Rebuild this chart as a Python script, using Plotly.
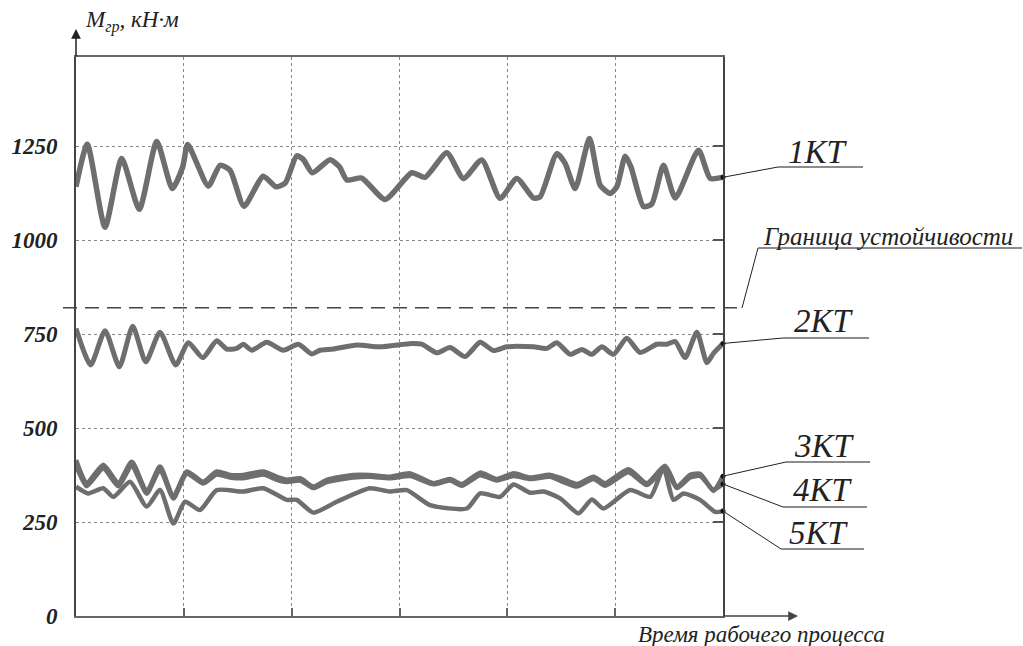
import plotly.graph_objects as go

# ---------------- data ----------------
t1 = [0, 0.105, 0.269, 0.424, 0.587, 0.749, 0.893, 0.99, 1.036, 1.227, 1.336, 1.428, 1.558, 1.737, 1.853,
      1.939, 2.047, 2.109, 2.192, 2.356, 2.443, 2.511, 2.65, 2.866, 3.114, 3.237, 3.439, 3.593, 3.763,
      3.933, 4.088, 4.242, 4.304, 4.459, 4.536, 4.629, 4.762, 4.861, 4.954, 5.016, 5.093, 5.146, 5.263,
      5.34, 5.448, 5.557, 5.773, 5.881, 6.0]
m1 = [1142, 1255, 1034, 1217, 1082, 1262, 1137, 1195, 1254, 1144, 1199, 1186, 1090, 1170, 1142,
      1151, 1224, 1214, 1179, 1214, 1195, 1160, 1165, 1108, 1179, 1167, 1232, 1164, 1213,
      1111, 1164, 1112, 1115, 1230, 1204, 1137, 1270, 1146, 1124, 1142, 1223, 1195, 1089,
      1096, 1199, 1112, 1239, 1164, 1167]

t2 = [0, 0.136, 0.269, 0.402, 0.526, 0.647, 0.779, 0.925, 1.042, 1.175, 1.305, 1.398, 1.491, 1.552,
      1.63, 1.769, 1.923, 2.062, 2.186, 2.263, 2.387, 2.604, 2.82, 3.114, 3.207, 3.346, 3.469, 3.609,
      3.748, 3.871, 3.995, 4.242, 4.366, 4.459, 4.583, 4.691, 4.784, 4.877, 4.984, 5.108, 5.232,
      5.387, 5.479, 5.557, 5.649, 5.758, 5.851, 5.912, 6.0]
m2 = [765, 668, 759, 663, 771, 676, 755, 668, 727, 687, 732, 710, 712, 723,
      707, 728, 707, 723, 697, 707, 710, 721, 716, 725, 723, 700, 714, 690,
      728, 706, 716, 716, 712, 727, 696, 709, 696, 716, 696, 739, 701,
      723, 723, 730, 687, 755, 674, 699, 725]

t34 = [0, 0.099, 0.253, 0.392, 0.517, 0.656, 0.779, 0.903, 1.027, 1.181, 1.305, 1.429, 1.552, 1.737,
       1.862, 1.955, 2.078, 2.201, 2.326, 2.572, 2.727, 2.913, 3.098, 3.315, 3.469, 3.578, 3.748,
       3.903, 4.057, 4.212, 4.397, 4.52, 4.645, 4.799, 4.907, 5.123, 5.294, 5.464, 5.572, 5.696,
       5.788, 5.912, 6.0]
m3 = [415, 353, 402, 353, 410, 331, 397, 317, 384, 357, 384, 375, 375, 384,
      370, 362, 366, 344, 362, 375, 375, 370, 379, 353, 364, 351, 381,
      364, 379, 368, 375, 364, 351, 370, 353, 390, 353, 399, 344, 375,
      378, 333, 372]
m4 = [400, 345, 392, 345, 398, 325, 388, 312, 378, 352, 376, 368, 366, 376,
      362, 356, 360, 340, 356, 368, 370, 366, 372, 350, 360, 346, 374,
      360, 372, 364, 370, 356, 344, 364, 346, 382, 348, 390, 340, 368,
      372, 336, 351]

t5 = [0, 0.114, 0.253, 0.346, 0.501, 0.656, 0.779, 0.903, 1.011, 1.15, 1.305, 1.552, 1.737, 1.955,
      2.047, 2.201, 2.418, 2.727, 2.913, 3.068, 3.284, 3.624, 3.748, 3.933, 4.057, 4.212, 4.335,
      4.49, 4.66, 4.784, 4.891, 5.139, 5.325, 5.448, 5.541, 5.634, 5.788, 5.927, 6.0]
m5 = [344, 326, 340, 317, 357, 291, 335, 246, 304, 282, 335, 331, 340, 309,
      309, 275, 304, 340, 331, 335, 295, 286, 326, 317, 350, 328, 331,
      313, 273, 310, 286, 335, 317, 393, 309, 326, 309, 277, 279]

series_names = ["1КТ", "2КТ", "3КТ", "4КТ", "5КТ"]
boundary_value = 820
boundary_label = "Граница устойчивости"
y_ticks = [0, 250, 500, 750, 1000, 1250]
y_title = "<i>M</i><sub><i>гр</i></sub><i>, кН·м</i>"
x_title = "Время рабочего процесса"

# ---------------- layout helpers ----------------
W, H = 1023, 646
L, R, T, B = 76, 723, 57, 616
YMAX = 1487
XMAX = 6


def px(xp):
    return (xp - L) / (R - L)


def py(yp):
    return (B - yp) / (B - T)


LINE = "#6e6e6e"
SERIF = "Liberation Serif"

fig = go.Figure()
series = [(t1, m1, 5.5), (t2, m2, 5), (t34, m3, 4.8), (t34, m4, 4.2), (t5, m5, 4.5)]
for (tt, mm, w), name in zip(series, series_names):
    fig.add_trace(go.Scatter(x=tt, y=mm, mode="lines", name=name,
                             line=dict(color=LINE, width=w, shape="spline", smoothing=0.6),
                             showlegend=False, hoverinfo="skip"))

# end-point dots
fig.add_trace(go.Scatter(x=[t1[-1], t2[-1], t34[-1], t34[-1], t5[-1]],
                         y=[m1[-1], m2[-1], m3[-1], m4[-1], m5[-1]],
                         mode="markers", marker=dict(color="#111", size=5),
                         cliponaxis=False, showlegend=False, hoverinfo="skip"))

# right-hand tick axis (no marks)
fig.add_trace(go.Scatter(x=[], y=[], yaxis="y2", showlegend=False))

shapes = []
annotations = []

# stability boundary dashed line
bx_end = 742
shapes.append(dict(type="line", xref="paper", yref="y", x0=px(63), x1=px(bx_end),
                   y0=boundary_value, y1=boundary_value,
                   line=dict(color="#444", width=1.3, dash="14px,8px")))
fig.add_trace(go.Scatter(x=[(bx_end - L) / (R - L) * XMAX], y=[boundary_value], mode="markers",
                         marker=dict(color="#111", size=5), cliponaxis=False,
                         showlegend=False, hoverinfo="skip"))

# labels with leaders: (text, end value, leader end px, underline x0,x1, text cx, cy)
label_specs = [
    (series_names[0], m1[-1], (778, 167), (778, 863), (817, 152)),
    (series_names[1], m2[-1], (783, 338), (783, 869), (824, 321)),
    (series_names[2], m3[-1], (786, 462), (786, 870), (824, 446)),
    (series_names[3], m4[-1], (783, 507), (783, 867), (822, 490)),
    (series_names[4], m5[-1], (781, 549), (781, 864), (818, 533)),
]
for text, val, (lx, ly), (u0, u1), (cx, cy) in label_specs:
    shapes.append(dict(type="line", xref="paper", yref="paper", x0=1.0, y0=val / YMAX,
                       x1=px(lx), y1=py(ly), line=dict(color="#222", width=1)))
    shapes.append(dict(type="line", xref="paper", yref="paper", x0=px(u0), y0=py(ly),
                       x1=px(u1), y1=py(ly), line=dict(color="#666", width=1.3)))
    annotations.append(dict(text=text, xref="paper", yref="paper", x=px(cx), y=py(cy),
                            xanchor="center", yanchor="middle", showarrow=False,
                            font=dict(family=SERIF, size=33, style="italic", color="#222")))

# boundary label
shapes.append(dict(type="line", xref="paper", yref="paper", x0=px(bx_end), y0=py(308),
                   x1=px(758), y1=py(248), line=dict(color="#222", width=1)))
shapes.append(dict(type="line", xref="paper", yref="paper", x0=px(758), y0=py(248),
                   x1=px(1022), y1=py(248), line=dict(color="#666", width=1.3)))
annotations.append(dict(text=boundary_label, xref="paper", yref="paper", x=px(888), y=py(236),
                        xanchor="center", yanchor="middle", showarrow=False,
                        font=dict(family=SERIF, size=25, style="italic", color="#222")))

# axis titles
annotations.append(dict(text=y_title, xref="paper", yref="paper", x=px(83), y=py(22),
                        xanchor="left", yanchor="middle", showarrow=False,
                        font=dict(family=SERIF, size=23, color="#222")))
annotations.append(dict(text=x_title, xref="paper", yref="paper", x=px(761), y=py(634),
                        xanchor="center", yanchor="middle", showarrow=False,
                        font=dict(family=SERIF, size=23, style="italic", color="#222")))

# axis arrows
annotations.append(dict(text="", xref="paper", yref="paper", x=0, y=py(29), ax=0, ay=29,
                        showarrow=True, arrowhead=2, arrowsize=1.3, arrowwidth=1.5, arrowcolor="#222"))
annotations.append(dict(text="", xref="paper", yref="paper", x=px(798), y=0, ax=-76, ay=0,
                        showarrow=True, arrowhead=2, arrowsize=1.3, arrowwidth=1.5, arrowcolor="#444"))

fig.update_layout(
    width=W, height=H,
    margin=dict(l=L, r=W - R, t=T, b=H - B),
    paper_bgcolor="white", plot_bgcolor="white",
    shapes=shapes, annotations=annotations,
    xaxis=dict(range=[0, XMAX], tickvals=[1, 2, 3, 4, 5], showticklabels=False,
               ticks="inside", ticklen=8, tickwidth=1.5, tickcolor="#666",
               showgrid=True, gridcolor="#888", griddash="dot", gridwidth=1,
               showline=True, linecolor="#666", linewidth=2, mirror=True, zeroline=False),
    yaxis=dict(range=[0, YMAX], tickvals=y_ticks, ticks="", ticklabelstandoff=12,
               tickfont=dict(family=SERIF, size=23, style="italic", weight="bold", color="#222"),
               showgrid=True, gridcolor="#888", griddash="dot", gridwidth=1,
               showline=True, linecolor="#444", linewidth=2, mirror=True, zeroline=False),
    yaxis2=dict(range=[0, YMAX], tickvals=y_ticks, overlaying="y", side="right",
                showticklabels=False, ticks="inside", ticklen=10, tickwidth=1.5, tickcolor="#555",
                showgrid=False, zeroline=False, showline=False),
)

fig.write_html("out.html", config={"displayModeBar": False},
               post_script="document.body.style.margin='0';document.body.style.overflow='hidden';")
